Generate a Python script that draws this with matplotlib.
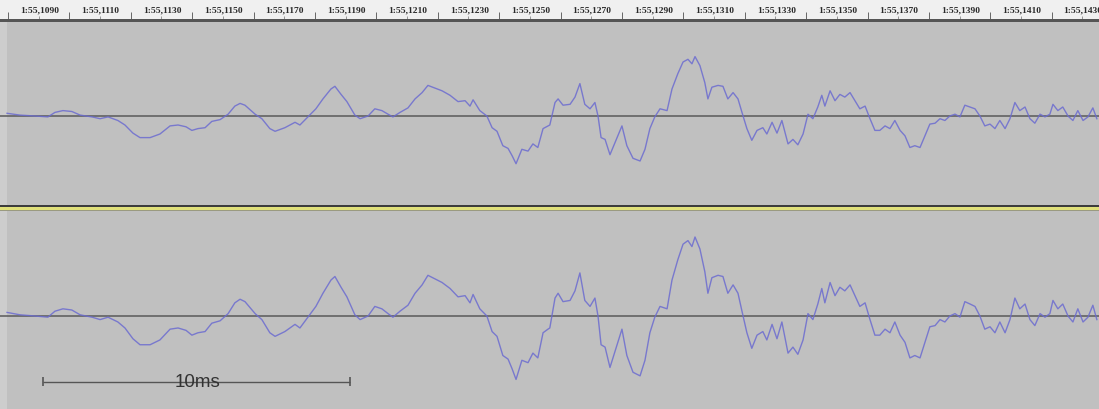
import matplotlib
matplotlib.use('Agg')
import matplotlib.pyplot as plt
from matplotlib.patches import Rectangle

# time in ms after 1:55.1090, amplitude as fraction of full scale
t_ms = [-0.03, 0.39, 0.88, 1.30, 1.53, 1.79, 2.08, 2.35, 2.74, 3.00,
        3.26, 3.58, 3.81, 4.07, 4.30, 4.63, 4.95, 5.28, 5.54, 5.80,
        5.99, 6.19, 6.42, 6.64, 6.91, 7.17, 7.39, 7.56, 7.72, 8.05,
        8.27, 8.53, 8.70, 9.02, 9.35, 9.51, 9.77, 10.03, 10.26, 10.52,
        10.65, 10.85, 11.04, 11.30, 11.47, 11.73, 11.95, 12.18, 12.38, 12.54,
        12.77, 13.03, 13.26, 13.49, 13.68, 13.91, 14.14, 14.40, 14.66, 14.89,
        15.05, 15.15, 15.37, 15.60, 15.77, 15.93, 16.12, 16.29, 16.42, 16.55,
        16.74, 16.94, 17.10, 17.26, 17.43, 17.59, 17.65, 17.82, 17.92, 18.08,
        18.31, 18.47, 18.63, 18.79, 18.96, 19.12, 19.22, 19.32, 19.45, 19.61,
        19.84, 20.00, 20.16, 20.36, 20.59, 20.75, 20.91, 21.07, 21.24, 21.47,
        21.63, 21.82, 21.99, 22.15, 22.28, 22.38, 22.54, 22.70, 22.80, 22.93,
        23.13, 23.29, 23.45, 23.62, 23.78, 23.91, 24.07, 24.23, 24.40, 24.59,
        24.72, 24.89, 25.05, 25.21, 25.41, 25.57, 25.73, 25.90, 26.06, 26.22,
        26.38, 26.51, 26.61, 26.78, 26.94, 27.10, 27.26, 27.43, 27.59, 27.75,
        27.92, 28.08, 28.24, 28.40, 28.57, 28.73, 28.89, 29.06, 29.22, 29.38,
        29.54, 29.71, 29.87, 30.03, 30.20, 30.36, 30.52, 30.68, 30.85, 31.01,
        31.17, 31.34, 31.50, 31.66, 31.82, 31.99, 32.15, 32.31, 32.48, 32.64,
        32.80, 32.96, 33.13, 33.29, 33.45, 33.62, 33.78, 33.94, 34.04, 34.20,
        34.36, 34.53, 34.69, 34.85, 35.02, 35.18, 35.34, 35.47]

left_ch = [0.03, 0.01, 0.00, -0.01, 0.04, 0.06, 0.05, 0.01, -0.01, -0.03,
           -0.01, -0.05, -0.10, -0.19, -0.24, -0.24, -0.20, -0.11, -0.10, -0.12,
           -0.16, -0.14, -0.13, -0.06, -0.04, 0.02, 0.11, 0.14, 0.12, 0.02,
           -0.03, -0.14, -0.17, -0.13, -0.07, -0.10, -0.01, 0.08, 0.19, 0.30,
           0.33, 0.24, 0.16, 0.01, -0.03, 0.00, 0.08, 0.06, 0.02, -0.01,
           0.04, 0.09, 0.19, 0.26, 0.34, 0.31, 0.28, 0.23, 0.16, 0.17,
           0.11, 0.18, 0.06, 0.00, -0.13, -0.17, -0.33, -0.36, -0.44, -0.53,
           -0.37, -0.39, -0.31, -0.35, -0.14, -0.11, -0.10, 0.15, 0.19, 0.12,
           0.13, 0.21, 0.36, 0.13, 0.08, 0.15, 0.00, -0.24, -0.26, -0.43,
           -0.24, -0.11, -0.33, -0.47, -0.50, -0.37, -0.14, -0.01, 0.08, 0.06,
           0.30, 0.47, 0.60, 0.63, 0.58, 0.66, 0.56, 0.37, 0.19, 0.32,
           0.34, 0.33, 0.19, 0.26, 0.19, 0.04, -0.14, -0.27, -0.16, -0.13,
           -0.20, -0.07, -0.19, -0.05, -0.31, -0.26, -0.32, -0.20, 0.02, -0.03,
           0.10, 0.23, 0.11, 0.28, 0.17, 0.24, 0.21, 0.26, 0.17, 0.08,
           0.11, -0.03, -0.16, -0.16, -0.11, -0.14, -0.05, -0.16, -0.22, -0.35,
           -0.33, -0.35, -0.22, -0.09, -0.08, -0.03, -0.05, 0.00, 0.02, -0.01,
           0.12, 0.10, 0.08, 0.00, -0.11, -0.09, -0.14, -0.05, -0.14, -0.03,
           0.15, 0.06, 0.10, -0.03, -0.08, 0.02, -0.01, 0.02, 0.13, 0.06,
           0.10, 0.00, -0.05, 0.06, -0.05, -0.01, 0.09, -0.03]

# second channel is the same signal recorded hotter
right_gain = 1.33
right_ch = [v * right_gain for v in left_ch]

ruler_ms = list(range(0, 36, 2))
ruler_labels = ['1:55,1090', '1:55,1110', '1:55,1130', '1:55,1150', '1:55,1170',
                '1:55,1190', '1:55,1210', '1:55,1230', '1:55,1250', '1:55,1270',
                '1:55,1290', '1:55,1310', '1:55,1330', '1:55,1350', '1:55,1370',
                '1:55,1390', '1:55,1410', '1:55,1430']

W, H = 1099, 410
XLIM = (-0.26, 35.54)
TRACK_BG = '#c0c0c0'
WAVE = '#6c6cd0'

fig = plt.figure(figsize=(W / 100, H / 100), dpi=100, facecolor=TRACK_BG)


def px_axes(top, bottom, **kw):
    return fig.add_axes([0, 1 - bottom / H, 1, (bottom - top) / H], **kw)


# background decoration (ruler, separators) in pixel coords
deco = px_axes(0, H, zorder=0)
deco.set_xlim(0, W)
deco.set_ylim(H, 0)
deco.axis('off')
deco.add_patch(Rectangle((0, 0), W, 20, color='#f0f0f0', lw=0))
deco.add_patch(Rectangle((0, 20), W, 3, color='#555555', lw=0))
deco.add_patch(Rectangle((0, 23), 7, H - 23, color='#cdcdcd', lw=0))
deco.add_patch(Rectangle((0, 205.5), W, 2.5, color='#3c3c3c', lw=0))
deco.add_patch(Rectangle((0, 208), W, 3, color='#e0e07a', lw=0))
deco.add_patch(Rectangle((0, 211), W, 1, color='#9a9a80', lw=0))

# ruler
ruler = px_axes(0, 20, zorder=1)
ruler.set_xlim(*XLIM)
ruler.set_ylim(20, 0)
ruler.axis('off')
ruler.patch.set_alpha(0)
ruler.vlines(ruler_ms, 13, 20, color='#666666', lw=0.7)
ruler.vlines([m + 1 for m in ruler_ms], 17, 20, color='#888888', lw=0.6)
for m, lab in zip(ruler_ms, ruler_labels):
    ruler.text(m + 0.39, 10, lab, ha='left', va='center', fontsize=6.8,
               family='Liberation Serif', fontweight='bold', color='#2a2a2a',
               clip_on=True)

# two channels
for top, bottom, data in [(27, 207, left_ch), (227, 407, right_ch)]:
    ax = px_axes(top, bottom, zorder=2)
    ax.patch.set_alpha(0)
    ax.set_xlim(*XLIM)
    ax.set_ylim(-1, 1)
    ax.axis('off')
    ax.axhline(0, color='#5a5a5a', lw=1.1)
    ax.plot(t_ms, data, color=WAVE, lw=1.0, alpha=0.85)
    lower = ax

# 10 ms scale bar
bar_y = -0.733
lower.hlines(bar_y, 1.14, 11.14, color='#555555', lw=1.0)
lower.vlines([1.14, 11.14], bar_y - 0.05, bar_y + 0.05, color='#555555', lw=1.2)
lower.text(6.16, bar_y, '10ms', ha='center', va='center', fontsize=13.5,
           family='Liberation Sans', color='#333333')

fig.savefig('out.png', dpi=100, facecolor=TRACK_BG)
